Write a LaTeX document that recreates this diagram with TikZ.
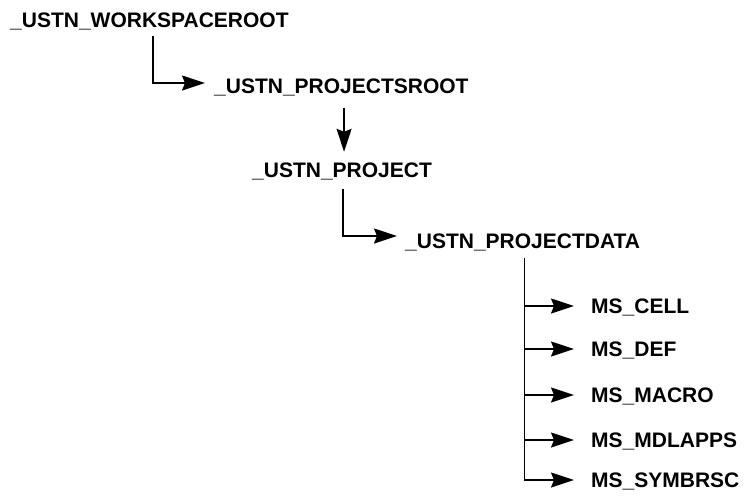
\documentclass[tikz,border=0pt]{standalone}
\usepackage{fontspec}
\setmainfont{Liberation Sans}
\usetikzlibrary{arrows.meta,calc}

\tikzset{
  lbl/.style={anchor=west, inner sep=0pt, font=\fontsize{21}{25}\selectfont\bfseries,
              text height=15pt, text depth=0pt},
  arr/.style={line width=1.5pt, -{Stealth[length=23pt,width=15pt,inset=3pt]}},
}

\begin{document}
\begin{tikzpicture}[x=1pt,y=-1pt]
  \useasboundingbox (0,0) rectangle (747,499);

  % directory levels
  \node[lbl] (ws)   at (10,19.5)  {\_USTN\_WORKSPACEROOT};
  \node[lbl] (psr)  at (214,86)   {\_USTN\_PROJECTSROOT};
  \node[lbl] (proj) at (252,169.5){\_USTN\_PROJECT};
  \node[lbl] (pd)   at (405,241)  {\_USTN\_PROJECTDATA};

  % configuration variables below the project data folder
  \node[lbl] (m1) at (591,306) {MS\_CELL};
  \node[lbl] (m2) at (591,349) {MS\_DEF};
  \node[lbl] (m3) at (591,395) {MS\_MACRO};
  \node[lbl] (m4) at (591,440) {MS\_MDLAPPS};
  \node[lbl] (m5) at (591,480) {MS\_SYMBRSC};

  % connectors
  \draw[arr] ($(ws.south west)+(143,9)$) |- ($(psr.west)+(-9,-3)$);
  \draw[arr] ($(proj.north |- psr.south)+(2,14)$) -- ($(proj.north)+(2,-10)$);
  \draw[arr] ($(proj.south)+(1,12)$) |- ($(pd.west)+(-8,-5)$);

  \coordinate (bar) at ($(pd.south)+(2,0)$);
  \draw[arr] ($(bar)+(0,9)$) |- ($(m5.west)+(-17,0)$);
  \draw[arr] (bar |- m1.west) -- ($(m1.west)+(-17,0)$);
  \draw[arr] (bar |- m2.west) -- ($(m2.west)+(-17,0)$);
  \draw[arr] (bar |- m3.west) -- ($(m3.west)+(-17,0)$);
  \draw[arr] (bar |- m4.west) -- ($(m4.west)+(-17,0)$);
\end{tikzpicture}
\end{document}
